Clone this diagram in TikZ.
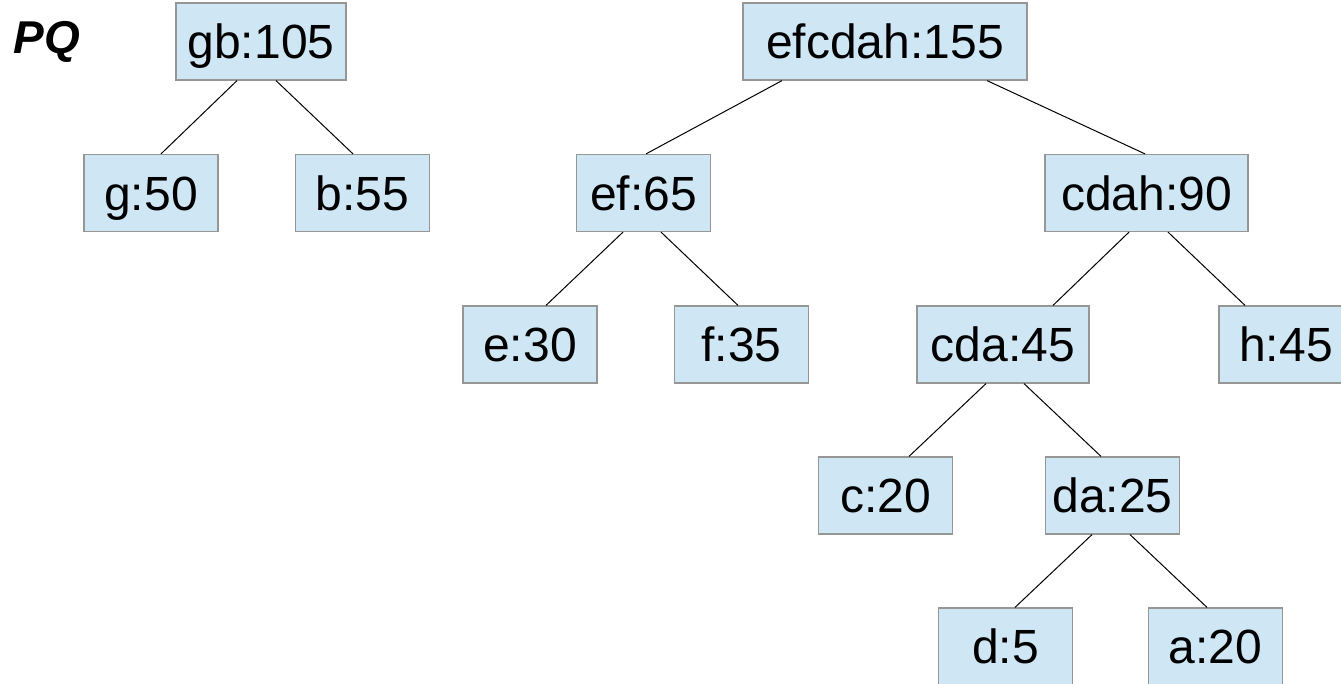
\documentclass[tikz,border=0pt]{standalone}
\usepackage{fontspec}
\setmainfont{Liberation Sans}
\usepackage{tikz}
\usetikzlibrary{calc,positioning}
\definecolor{boxfill}{RGB}{207,231,245}
\definecolor{boxline}{RGB}{150,150,150}
\tikzset{
node distance=151.5pt, % vertical step between the levels
tnode/.style={draw=boxline, line width=1.2pt, fill=boxfill, rectangle,
  minimum width=134pt, minimum height=77pt, inner sep=0pt,
  font=\fontsize{48}{57}\selectfont, text height=34.5pt, text depth=0pt},
link/.style={draw=black, line width=1pt},
}

\begin{document}
\begin{tikzpicture}[on grid]
   \useasboundingbox (0,0) rectangle (1341pt,-684pt);
   % first tree
   \node[tnode, minimum width=170pt] (n_gb) at (261pt,-41.5pt) {gb:105};
   \node[tnode] (n_g) [below left=151.5pt and 110pt of n_gb] {g:50};
   \node[tnode] (n_b) [below right=151.5pt and 101.5pt of n_gb] {b:55};
   \node[font=\fontsize{46}{54}\selectfont\bfseries\itshape, text height=33pt, text depth=0pt, inner sep=0pt]
     (pq) [above left=4pt and 214pt of n_gb] {PQ};
   % second tree
   \node[tnode, minimum width=284pt] (n_efcdah) [right=624pt of n_gb] {efcdah:155};
   \node[tnode] (n_ef) [below left=151.5pt and 241.5pt of n_efcdah] {ef:65};
   \node[tnode, minimum width=203pt] (n_cdah) [below right=151.5pt and 261.5pt of n_efcdah] {cdah:90};
   \node[tnode] (n_e) [below left=151.5pt and 113.5pt of n_ef] {e:30};
   \node[tnode] (n_f) [below right=151.5pt and 98pt of n_ef] {f:35};
   \node[tnode, minimum width=172pt] (n_cda) [below left=151.5pt and 143.5pt of n_cdah] {cda:45};
   \node[tnode] (n_h) [below right=151.5pt and 139.5pt of n_cdah] {h:45};
   \node[tnode] (n_c) [below left=151pt and 117.5pt of n_cda] {c:20};
   \node[tnode] (n_da) [below right=151pt and 109.5pt of n_cda] {da:25};
   \node[tnode] (n_d) [below left=151pt and 107pt of n_da] {d:5};
   \node[tnode] (n_a) [below right=151pt and 103pt of n_da] {a:20};
   % edges
   \draw[link] ([xshift=-24pt]n_gb.south) -- ([xshift=10pt]n_g.north);
   \draw[link] ([xshift=15pt]n_gb.south) -- ([xshift=-9.5pt]n_b.north);
   \draw[link] ([xshift=-103pt]n_efcdah.south) -- ([xshift=2.5pt]n_ef.north);
   \draw[link] ([xshift=102pt]n_efcdah.south) -- ([xshift=-1.5pt]n_cdah.north);
   \draw[link] ([xshift=-20.5pt]n_ef.south) -- ([xshift=16pt]n_e.north);
   \draw[link] ([xshift=17.5pt]n_ef.south) -- ([xshift=-3.5pt]n_f.north);
   \draw[link] ([xshift=-17.5pt]n_cdah.south) -- ([xshift=50pt]n_cda.north);
   \draw[link] ([xshift=21.5pt]n_cdah.south) -- ([xshift=-41pt]n_h.north);
   \draw[link] ([xshift=-17pt]n_cda.south) -- ([xshift=23.5pt]n_c.north);
   \draw[link] ([xshift=21pt]n_cda.south) -- ([xshift=-11.5pt]n_da.north);
   \draw[link] ([xshift=-20.5pt]n_da.south) -- ([xshift=9.5pt]n_d.north);
   \draw[link] ([xshift=17.5pt]n_da.south) -- ([xshift=-8.5pt]n_a.north);
\end{tikzpicture}
\end{document}
